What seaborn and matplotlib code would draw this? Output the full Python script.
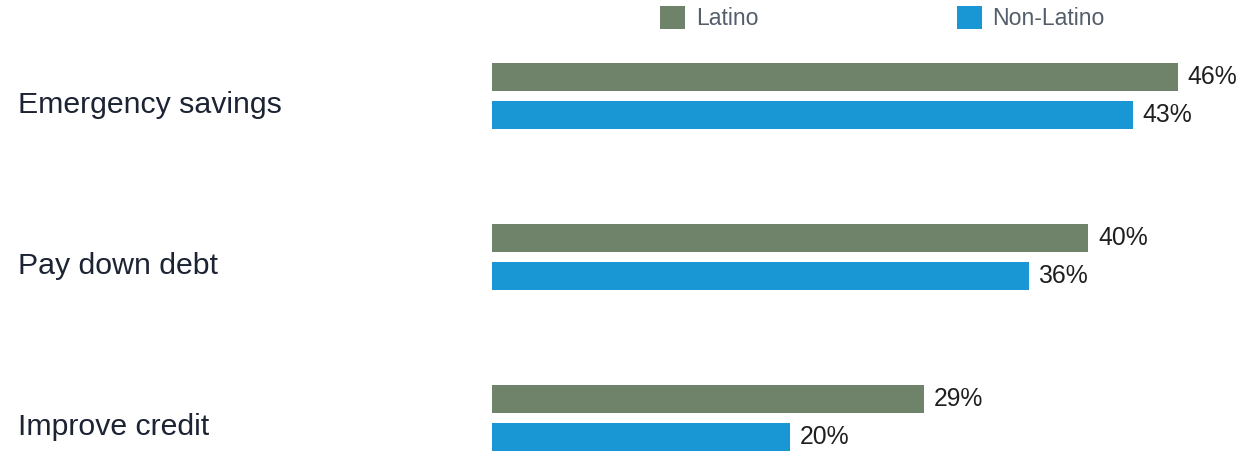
import matplotlib
matplotlib.use("Agg")
import matplotlib.pyplot as plt
import matplotlib.transforms as mtransforms
import seaborn as sns
import pandas as pd

categories = ["Emergency savings", "Pay down debt", "Improve credit"]
series_names = ["Latino", "Non-Latino"]
latino = [46, 40, 29]
non_latino = [43, 36, 20]
colors = ["#6f826a", "#1996d4"]

df = pd.DataFrame({
    "category": categories * 2,
    "group": [series_names[0]] * 3 + [series_names[1]] * 3,
    "value": latino + non_latino,
})

sns.set_theme(style="white")
plt.rcParams["font.family"] = ["Liberation Sans", "DejaVu Sans"]

W, H = 1240, 453
fig = plt.figure(figsize=(W / 100, H / 100), dpi=100)
ax = fig.add_axes([492 / W, 0, 745.5 / W, 413 / H])

sns.barplot(data=df, y="category", x="value", hue="group", order=categories,
            hue_order=series_names, palette=colors, orient="h",
            width=0.472, gap=0.263, ax=ax, legend=True, saturation=1,
            linewidth=0, edgecolor="none")

ax.set_xlim(0, 50)
ax.set_ylim(2.217, -0.348)
ax.set_xlabel("")
ax.set_ylabel("")
ax.set_xticks([])
ax.set_yticks([])
for s in ax.spines.values():
    s.set_visible(False)

for cont in ax.containers:
    ax.bar_label(cont, fmt="{:.0f}%", padding=7, fontsize=17.8, color="#1f1f1f")

trans = mtransforms.blended_transform_factory(fig.transFigure, ax.transData)
for i, c in enumerate(categories):
    ax.text(18 / W, i + 0.106, c, transform=trans, ha="left", va="baseline",
            fontsize=21.8, color="#1c2333")

handles, labels = ax.get_legend_handles_labels()
ax.legend(handles, labels, loc="upper left", bbox_to_anchor=(660 / W, 1 - 6 / H),
          bbox_transform=fig.transFigure, ncol=2, frameon=False, fontsize=16.6,
          handlelength=1.1, handleheight=1.15, handletextpad=0.45,
          columnspacing=8.6, borderpad=0, borderaxespad=0, labelcolor="#545e6b")

fig.savefig("out.png", dpi=100)
